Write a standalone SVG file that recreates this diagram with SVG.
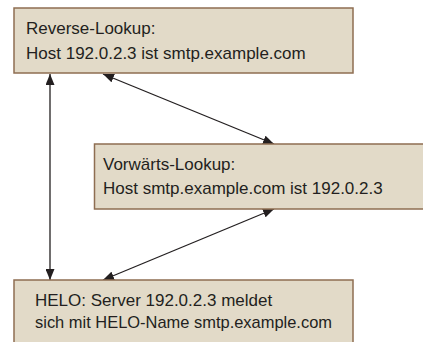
<svg xmlns="http://www.w3.org/2000/svg" width="423" height="342" viewBox="0 0 423 342">
<style>
.box{fill:#e2dac8;stroke:#8e6e52;stroke-width:1.5}
.t{font-family:"Liberation Sans",Arial,sans-serif;font-size:17px;fill:#231f20}
.c{stroke:#231f20;stroke-width:1.3;fill:none;marker-start:url(#a);marker-end:url(#a)}
</style>
<defs>
<marker id="a" viewBox="0 0 11 9" refX="11" refY="4.5" markerWidth="11" markerHeight="9" markerUnits="userSpaceOnUse" orient="auto-start-reverse">
<path d="M0,0 L11,4.5 L0,9 Z" fill="#231f20"/>
</marker>
</defs>
<rect width="423" height="342" fill="#fff"/>
<g id="connectors">
<line class="c" x1="50" y1="74" x2="50" y2="280"/>
<line class="c" x1="103" y1="74" x2="274" y2="144"/>
<line class="c" x1="274" y1="209" x2="103" y2="280"/>
</g>
<g id="reverse">
<rect class="box" x="14" y="8" width="339" height="65"/>
<text class="t" x="26" y="34">Reverse-Lookup:</text>
<text class="t" x="26" y="59">Host 192.0.2.3 ist smtp.example.com</text>
</g>
<g id="forward">
<rect class="box" x="94.5" y="144" width="340" height="65"/>
<text class="t" x="103" y="170">Vorwärts-Lookup:</text>
<text class="t" x="103" y="194">Host smtp.example.com ist 192.0.2.3</text>
</g>
<g id="helo">
<rect class="box" x="14" y="280" width="339" height="70"/>
<text class="t" x="35" y="306">HELO: Server 192.0.2.3 meldet</text>
<text class="t" x="35" y="328" textLength="297" lengthAdjust="spacingAndGlyphs">sich mit HELO-Name smtp.example.com</text>
</g>
</svg>
